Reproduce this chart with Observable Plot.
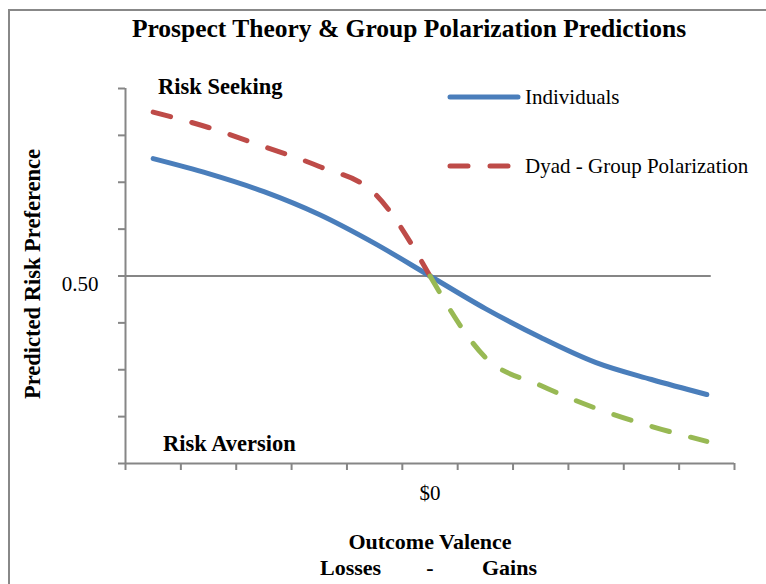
<!DOCTYPE html>
<html>
<head>
<meta charset="utf-8">
<script src="https://cdn.jsdelivr.net/npm/d3@7"></script>
<script src="https://cdn.jsdelivr.net/npm/@observablehq/plot@0.6"></script>
<style>
  html, body { margin: 0; padding: 0; background: #fff; overflow: hidden; }
  #wrap { position: relative; width: 766px; height: 584px; overflow: hidden;
          font-family: "Liberation Serif", "Times New Roman", serif; color: #000; }
  #frame { position: absolute; left: 8px; top: 9px; width: 800px; height: 620px;
           border-left: 2px solid #888; border-top: 2px solid #888; }
  .t { position: absolute; white-space: nowrap; line-height: 1; }
  .b { font-weight: bold; }
  #chart { position: absolute; left: 0; top: 0; }
</style>
</head>
<body>
<div id="wrap">
  <div id="frame"></div>
  <div id="chart"></div>
</div>
<script>
// ---- data ----
const categories = [1, 2, 3, 4, 5, 6, 7, 8, 9, 10, 11];
const tickLabels = ["", "", "", "", "", "$0", "", "", "", "", ""];
const individuals = [0.813, 0.773, 0.725, 0.664, 0.587, 0.50, 0.413, 0.336, 0.269, 0.224, 0.184];
const dyadLossCats = [1, 2, 3, 4, 5, 6];
const dyadLosses = [0.937, 0.896, 0.845, 0.792, 0.720, 0.50];
const dyadGainCats = [6, 7, 8, 9, 10, 11];
const dyadGains = [0.50, 0.283, 0.208, 0.147, 0.099, 0.059];
const yTicks = [0, 0.125, 0.25, 0.375, 0.5, 0.625, 0.75, 0.875, 1];
const yLabelled = [0.5];
const seriesNames = ["Individuals", "Dyad - Group Polarization"];
const title = "Prospect Theory & Group Polarization Predictions";

const BLUE = "#4a7ebb", RED = "#be4b48", GREEN = "#98b954", GRAY = "#868686";
const FONT = '"Liberation Serif", "Times New Roman", serif';
const CURVE = "monotone-x";
const LW = 5;

const indData = categories.map((c, i) => ({x: c, y: individuals[i]}));
const lossData = dyadLossCats.map((c, i) => ({x: c, y: dyadLosses[i]}));
const gainData = dyadGainCats.map((c, i) => ({x: c, y: dyadGains[i]}));
const xBounds = [categories[0] - 0.5, categories[categories.length - 1] + 0.5];
const xTicks = d3.range(xBounds[0], xBounds[1] + 0.001, 1);

const plot = Plot.plot({
  width: 766,
  height: 584,
  marginLeft: 125,
  marginRight: 32,
  marginTop: 88,
  marginBottom: 121,
  style: {fontFamily: FONT, background: "transparent", overflow: "visible"},
  x: {type: "linear", domain: xBounds, label: null},
  y: {domain: [0, 1], label: null},
  marks: [
    Plot.ruleY([0.5], {x1: xBounds[0], x2: categories[categories.length - 1] + 0.08, stroke: GRAY, strokeWidth: 2}),
    Plot.ruleX([xBounds[0]], {stroke: GRAY, strokeWidth: 2}),
    Plot.ruleY([0], {stroke: GRAY, strokeWidth: 2}),
    Plot.axisY({ticks: yTicks, tickSize: 7, tickFormat: () => "", label: null, stroke: GRAY, strokeWidth: 2}),
    Plot.axisY({ticks: yLabelled, tickSize: 0, tickPadding: 27, dy: 8, fontSize: 21, fill: "#000", label: null,
                tickFormat: d => d3.format(".2f")(d)}),
    Plot.axisX({ticks: xTicks, tickSize: 7, tickFormat: () => "", label: null, stroke: GRAY, strokeWidth: 2}),
    Plot.axisX({ticks: categories.filter((c, i) => tickLabels[i] !== ""), tickSize: 0, tickPadding: 22, fontSize: 21,
                fill: "#000", label: null, tickFormat: d => tickLabels[categories.indexOf(d)]}),
    Plot.line(indData, {x: "x", y: "y", stroke: BLUE, strokeWidth: LW, curve: CURVE, strokeLinecap: "round"}),
    Plot.line(lossData, {x: "x", y: "y", stroke: RED, strokeWidth: LW, curve: CURVE,
                         strokeDasharray: "18,22", strokeLinecap: "round"}),
    Plot.line(gainData, {x: "x", y: "y", stroke: GREEN, strokeWidth: LW, curve: CURVE,
                         strokeDasharray: "18,22", strokeLinecap: "round"})
  ]
});
document.getElementById("chart").appendChild(plot);

// ---- text annotations & legend (HTML overlay) ----
const wrap = document.getElementById("wrap");
function addText(txt, opts) {
  const d = document.createElement("div");
  d.className = "t" + (opts.bold ? " b" : "");
  d.textContent = txt;
  d.style.fontSize = opts.size + "px";
  d.style.top = (opts.baseline - 0.8375 * opts.size) + "px";
  if (opts.center != null) {
    d.style.left = opts.center + "px";
    d.style.transform = "translateX(-50%)";
  } else {
    d.style.left = opts.left + "px";
  }
  wrap.appendChild(d);
  return d;
}
addText(title, {bold: true, size: 25.5, baseline: 37, center: 409});
addText("Risk Seeking", {bold: true, size: 22.5, baseline: 95, left: 158});
addText("Risk Aversion", {bold: true, size: 22.5, baseline: 452, left: 163});
addText("Outcome Valence", {bold: true, size: 22, baseline: 549, center: 430});
addText("Losses", {bold: true, size: 22, baseline: 575, left: 320});
addText("-", {bold: true, size: 22, baseline: 575, center: 430});
addText("Gains", {bold: true, size: 22, baseline: 575, left: 482});

// rotated y label
const yl = document.createElement("div");
yl.className = "t b";
yl.textContent = "Predicted Risk Preference";
yl.style.fontSize = "22.5px";
yl.style.left = "33px";
yl.style.top = "274px";
yl.style.transform = "translate(-50%, -50%) rotate(-90deg)";
wrap.appendChild(yl);

// legend
const legendItems = [
  {name: seriesNames[0], color: BLUE, dash: null, lineY: 97, baseline: 105},
  {name: seriesNames[1], color: RED, dash: "18,22", lineY: 166, baseline: 174}
];
const ns = "http://www.w3.org/2000/svg";
const lsvg = document.createElementNS(ns, "svg");
lsvg.setAttribute("width", 766);
lsvg.setAttribute("height", 584);
lsvg.style.position = "absolute";
lsvg.style.left = "0";
lsvg.style.top = "0";
lsvg.style.pointerEvents = "none";
legendItems.forEach(it => {
  const ln = document.createElementNS(ns, "line");
  ln.setAttribute("x1", 450); ln.setAttribute("x2", 518);
  ln.setAttribute("y1", it.lineY); ln.setAttribute("y2", it.lineY);
  ln.setAttribute("stroke", it.color);
  ln.setAttribute("stroke-width", LW);
  ln.setAttribute("stroke-linecap", "round");
  if (it.dash) ln.setAttribute("stroke-dasharray", it.dash);
  lsvg.appendChild(ln);
  addText(it.name, {bold: false, size: 21, baseline: it.baseline, left: 525});
});
wrap.appendChild(lsvg);
</script>
</body>
</html>
